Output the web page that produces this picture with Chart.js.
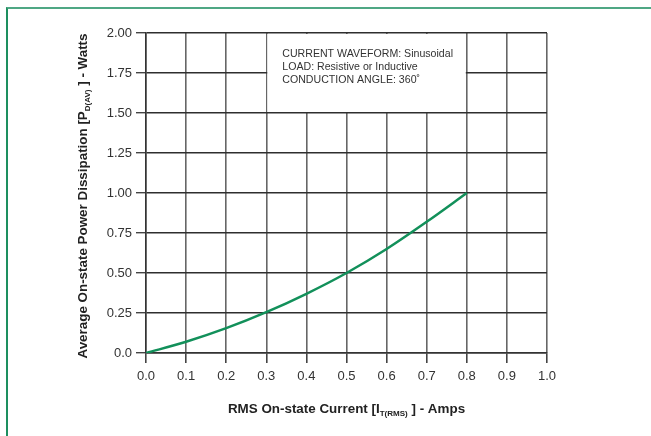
<!DOCTYPE html>
<html>
<head>
<meta charset="utf-8">
<script src="https://cdn.jsdelivr.net/npm/chart.js@4"></script>
<style>
  body { margin: 0; background: #fff; }
  #wrap { position: relative; width: 651px; height: 436px; overflow: hidden; }
  #frame { position: absolute; left: 6px; top: 7px; right: -10px; bottom: -10px;
           border-top: 2px solid #4fa784; border-left: 2px solid #1d8f5f; pointer-events: none; }
</style>
</head>
<body>
<div id="wrap">
  <canvas id="chart" width="651" height="436"></canvas>
  <div id="frame"></div>
</div>
<script>
// RMS on-state current (A) vs average power dissipation (W)
const currents = [0, 0.1, 0.2, 0.3, 0.4, 0.5, 0.6, 0.7, 0.8];
const power = [0, 0.07, 0.155, 0.255, 0.37, 0.5, 0.65, 0.82, 1.0];
const xTicks = [0, 0.1, 0.2, 0.3, 0.4, 0.5, 0.6, 0.7, 0.8, 0.9, 1.0];
const yTicks = [0, 0.25, 0.5, 0.75, 1.0, 1.25, 1.5, 1.75, 2.0];
const noteLines = ['CURRENT WAVEFORM: Sinusoidal', 'LOAD: Resistive or Inductive', 'CONDUCTION ANGLE: 360\u02DA'];
const xTitle = [['RMS On-state Current [I', false], ['T(RMS)', true], [' ] - Amps', false]];
const yTitle = [['Average On-state Power Dissipation [P', false], ['D(AV)', true], [' ] - Watts', false]];

const FONT = '"Liberation Sans", Arial, sans-serif';

function drawRich(ctx, parts, cx, cy, size) {
    // measure, then draw centred on (cx, cy)
    let w = 0;
    parts.forEach(([t, sub]) => {
        ctx.font = sub ? `bold ${size * 0.6}px ${FONT}` : `bold ${size}px ${FONT}`;
        w += ctx.measureText(t).width;
    });
    let x = cx - w / 2;
    ctx.textBaseline = 'middle';
    ctx.textAlign = 'left';
    parts.forEach(([t, sub]) => {
        ctx.font = sub ? `bold ${size * 0.6}px ${FONT}` : `bold ${size}px ${FONT}`;
        ctx.fillText(t, x, sub ? cy + size * 0.35 : cy);
        x += ctx.measureText(t).width;
    });
}

const extras = {
    id: 'extras',
    beforeDatasetsDraw(chart) {
        const { ctx, scales: { x, y } } = chart;
        // note box blanks out the grid between 0.3-0.8 A and 1.5-2.0 W
        const l = x.getPixelForValue(0.3), r = x.getPixelForValue(0.8);
        const t = y.getPixelForValue(2.0), b = y.getPixelForValue(1.5);
        ctx.save();
        ctx.fillStyle = '#fff';
        ctx.fillRect(l + 1, t + 1, r - l - 2, b - t - 2);
        ctx.fillStyle = '#333';
        ctx.font = `10.6px ${FONT}`;
        ctx.textBaseline = 'middle';
        noteLines.forEach((s, i) => ctx.fillText(s, l + 16, t + 21 + i * 12.8));
        ctx.restore();
    },
    afterDraw(chart) {
        const { ctx, chartArea } = chart;
        ctx.save();
        ctx.fillStyle = '#222';
        drawRich(ctx, xTitle, (chartArea.left + chartArea.right) / 2, 409, 13.4);
        ctx.translate(83, 196);
        ctx.rotate(-Math.PI / 2);
        drawRich(ctx, yTitle, 0, 0, 13.4);
        ctx.restore();
    }
};

new Chart(document.getElementById('chart').getContext('2d'), {
    type: 'scatter',
    data: {
        datasets: [{
            data: currents.map((c, i) => ({ x: c, y: power[i] })),
            showLine: true,
            borderColor: '#12905a',
            borderWidth: 2.5,
            pointRadius: 0,
            cubicInterpolationMode: 'monotone',
            fill: false
        }]
    },
    options: {
        responsive: false,
        animation: false,
        layout: { padding: { top: 33, right: 104, left: 0, bottom: 0 } },
        plugins: { legend: { display: false }, tooltip: { enabled: false } },
        scales: {
            x: {
                type: 'linear', min: 0, max: 1.0,
                afterBuildTicks: s => { s.ticks = xTicks.map(v => ({ value: v })); },
                afterFit: s => { s.height = 83; },
                grid: { color: '#666', lineWidth: 1.6, tickLength: 10, tickColor: '#444' },
                border: { color: '#333', width: 1.5 },
                ticks: {
                    color: '#333', padding: 6,
                    font: { family: FONT, size: 13 },
                    callback: v => v.toFixed(1)
                }
            },
            y: {
                type: 'linear', min: 0, max: 2.0,
                afterBuildTicks: s => { s.ticks = yTicks.map(v => ({ value: v })); },
                afterFit: s => { s.width = 146; },
                grid: { color: '#2e2e2e', lineWidth: 1.4, tickLength: 10, tickColor: '#444' },
                border: { color: '#333', width: 1.5 },
                ticks: {
                    color: '#333', padding: 4,
                    font: { family: FONT, size: 13 },
                    callback: v => v === 0 ? '0.0' : v.toFixed(2)
                }
            }
        }
    },
    plugins: [extras]
});
</script>
</body>
</html>
